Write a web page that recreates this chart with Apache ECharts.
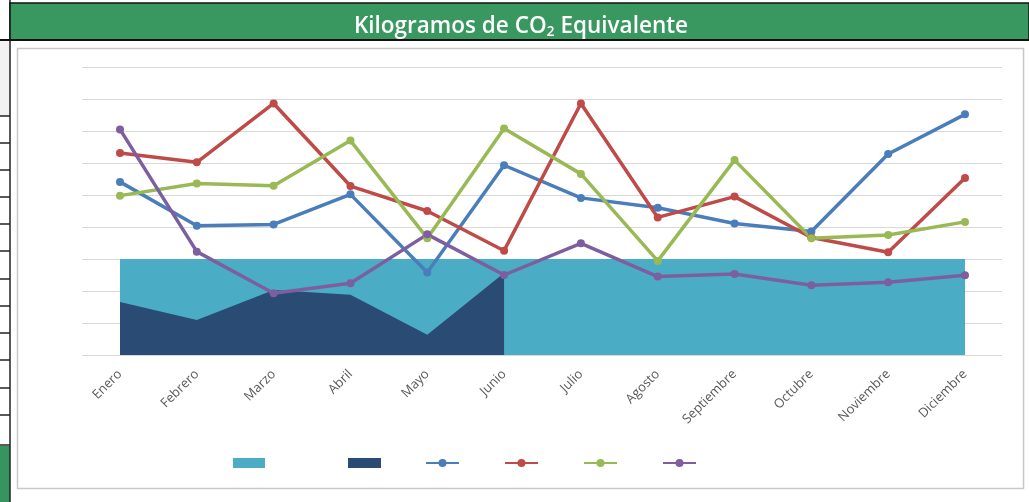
<!DOCTYPE html>
<html>
<head>
<meta charset="utf-8">
<script src="https://cdn.jsdelivr.net/npm/echarts@6/dist/echarts.min.js"></script>
<style>
html,body{margin:0;padding:0;background:#fff;}
#chart{width:1029px;height:502px;}
</style>
</head>
<body>
<div id="chart"></div>
<script>
const months = ['Enero','Febrero','Marzo','Abril','Mayo','Junio','Julio','Agosto','Septiembre','Octubre','Noviembre','Diciembre'];
const seriesNames = ['Serie 1','Serie 2','Serie 3','Serie 4','Serie 5','Serie 6'];
const areaLight = [3,3,3,3,3,3,3,3,3,3,3,3];
const areaDark = [1.66,1.09,2.03,1.88,0.63,2.56,null,null,null,null,null,null];
const lineBlue = [5.41,4.04,4.08,5.02,2.58,5.93,4.91,4.60,4.11,3.86,6.28,7.52];
const lineRed = [6.31,6.02,7.86,5.28,4.50,3.26,7.86,4.30,4.95,3.67,3.21,5.53];
const lineGreen = [4.98,5.36,5.29,6.70,3.65,7.08,5.66,2.94,6.09,3.65,3.75,4.16];
const linePurple = [7.05,3.23,1.93,2.24,3.77,2.50,3.49,2.45,2.53,2.18,2.27,2.49];

const chart = echarts.init(document.getElementById('chart'), null, {renderer:'canvas'});

// spreadsheet frame decorations
const frame = [];
frame.push({type:'rect', shape:{x:0,y:40,width:10,height:76}, style:{fill:'#f2f2f2'}, z:-10});
const rowLines = [116,143,170,197,224,251,279,306,333,360,388,415,445];
rowLines.forEach(y => frame.push({type:'line', shape:{x1:0,y1:y,x2:10,y2:y}, style:{stroke:'#222',lineWidth:1.5}, z:-9}));
frame.push({type:'rect', shape:{x:0,y:446,width:10,height:56}, style:{fill:'#35945f'}, z:-9});
frame.push({type:'line', shape:{x1:10,y1:0,x2:10,y2:502}, style:{stroke:'#222',lineWidth:1.5}, z:-8});
frame.push({type:'rect', shape:{x:10,y:3,width:1019,height:37}, style:{fill:'#38985f',stroke:'#111',lineWidth:1.5}, z:-7});
frame.push({type:'line', shape:{x1:0,y1:40,x2:1029,y2:40}, style:{stroke:'#111',lineWidth:2}, z:-7});
frame.push({type:'rect', shape:{x:17.5,y:48.5,width:1006,height:440}, style:{fill:'#fff',stroke:'#c8c8c8',lineWidth:1.5}, z:-6});

const lineSeries = (name, data, color) => ({
  name, type:'line', xAxisIndex:1, yAxisIndex:1, data,
  symbol:'circle', symbolSize:8,
  itemStyle:{color}, lineStyle:{color, width:3.5}, z:5
});

chart.setOption({
  animation:false,
  backgroundColor:'#ffffff',
  graphic: frame,
  title:{
    text:'{a|Kilogramos de CO}{b|2}{a| Equivalente}',
    left:516, textAlign:'center', top:9,
    textStyle:{rich:{
      a:{fontFamily:'Open Sans', fontSize:22.5, fontWeight:600, color:'#ffffff', lineHeight:26},
      b:{fontFamily:'Open Sans', fontSize:14, fontWeight:600, color:'#ffffff', padding:[11,0,0,0], lineHeight:26}
    }}
  },
  legend:[
    {data:[{name:seriesNames[0], icon:'rect'}], left:228, top:453, itemWidth:32, itemHeight:10, formatter:()=> '', selectedMode:false},
    {data:[{name:seriesNames[1], icon:'rect'}, seriesNames[2], seriesNames[3], seriesNames[4], seriesNames[5]],
     left:343, top:453, itemWidth:33, itemHeight:10, itemGap:44, formatter:()=> '', selectedMode:false}
  ],
  grid:[
    {left:82, right:27, top:67, bottom:147},
    {left:120, right:64, top:67, bottom:147}
  ],
  xAxis:[
    {gridIndex:0, type:'value', min:0, max:1, show:false},
    {gridIndex:1, type:'category', data:months, boundaryGap:false,
     axisLine:{show:false}, axisTick:{show:false},
     axisLabel:{rotate:45, interval:0, margin:17, color:'#595959', fontFamily:'Open Sans', fontSize:13}}
  ],
  yAxis:[
    {gridIndex:0, type:'value', min:0, max:9, interval:1,
     axisLabel:{show:false}, axisLine:{show:false}, axisTick:{show:false},
     splitLine:{show:true, lineStyle:{color:'#d9d9d9', width:1}}},
    {gridIndex:1, type:'value', min:0, max:9, interval:1, show:false, splitLine:{show:false}}
  ],
  series:[
    {name:seriesNames[0], type:'line', xAxisIndex:1, yAxisIndex:1, data:areaLight,
     symbol:'none', lineStyle:{width:0}, itemStyle:{color:'#4bacc6'}, areaStyle:{color:'#4bacc6', opacity:1}, z:2},
    {name:seriesNames[1], type:'line', xAxisIndex:1, yAxisIndex:1, data:areaDark,
     symbol:'none', lineStyle:{width:0}, itemStyle:{color:'#2a4b73'}, areaStyle:{color:'#2a4b73', opacity:1}, z:3},
    lineSeries(seriesNames[2], lineBlue, '#4a7ebb'),
    lineSeries(seriesNames[3], lineRed, '#be4b48'),
    lineSeries(seriesNames[4], lineGreen, '#98b954'),
    lineSeries(seriesNames[5], linePurple, '#7d5fa0')
  ]
});
</script>
</body>
</html>
